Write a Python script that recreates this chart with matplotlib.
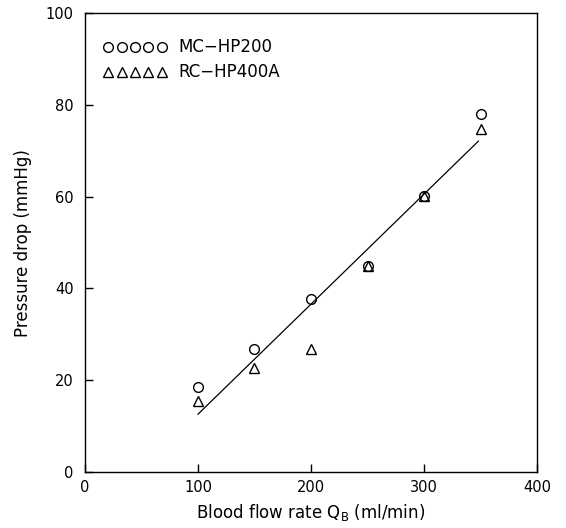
import matplotlib
matplotlib.use('Agg')
import matplotlib.pyplot as plt
from matplotlib.lines import Line2D

# blood flow rate (ml/min) and pressure drop (mmHg)
flow = [100, 150, 200, 250, 300, 350]
mc_hp200 = [18.5, 26.8, 37.7, 44.9, 60.1, 78.0]
rc_hp400a = [15.5, 22.7, 26.8, 44.9, 60.1, 74.7]

# regression line end points
fit_x = [100, 348]
fit_y = [12.6, 72.1]

plt.rcParams['font.family'] = ['DejaVu Sans']
plt.rcParams['mathtext.fontset'] = 'dejavusans'

fig = plt.figure(figsize=(5.66, 5.28), dpi=100)
ax = fig.add_axes([0.150, 0.106, 0.799, 0.869])

ax.plot(fit_x, fit_y, color='black', lw=0.9)
ax.plot(flow, mc_hp200, 'o', ms=7, mfc='none', mec='black', mew=1.0)
ax.plot(flow, rc_hp400a, '^', ms=6.5, mfc='none', mec='black', mew=1.0)

ax.set_xlim(0, 400)
ax.set_ylim(0, 100)
ax.set_xticks([0, 100, 200, 300, 400])
ax.set_yticks([0, 20, 40, 60, 80, 100])
ax.tick_params(direction='in', length=6, width=1, labelsize=10.5, pad=6,
               top=False, right=False)
ax.tick_params(axis='y', pad=8)
for s in ax.spines.values():
    s.set_linewidth(1.0)

ax.set_xlabel(r'Blood flow rate Q$_\mathrm{B}$ (ml/min)', fontsize=12, labelpad=5)
ax.set_ylabel('Pressure drop (mmHg)', fontsize=12, labelpad=10)

handles = [
    Line2D([], [], ls='none', marker='o', ms=7, mfc='none', mec='black', mew=1.0),
    Line2D([], [], ls='none', marker='^', ms=6.5, mfc='none', mec='black', mew=1.0),
]
ax.legend(handles, ['MC\u2212HP200', 'RC\u2212HP400A'], loc='upper left',
          bbox_to_anchor=(0.011, 0.974), numpoints=5, handlelength=3.8,
          handletextpad=0.72, frameon=False, fontsize=12, labelspacing=0.42,
          borderaxespad=0.4)

fig.savefig('out.png', dpi=100)
